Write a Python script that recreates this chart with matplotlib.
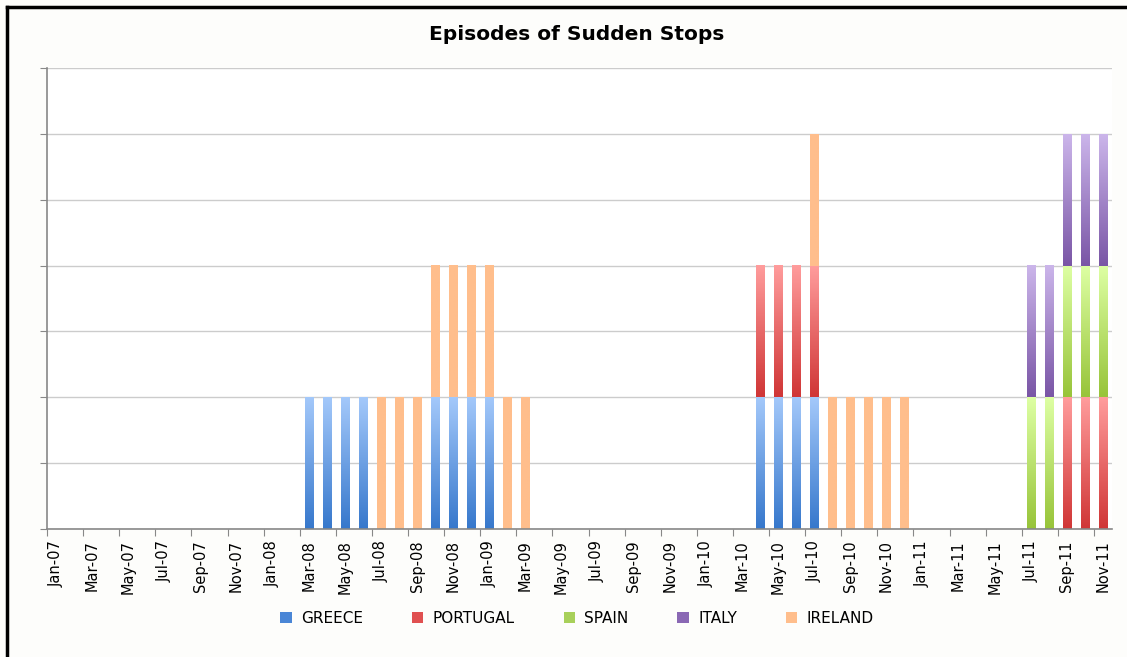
import numpy as np
import matplotlib.pyplot as plt
from matplotlib.colors import LinearSegmentedColormap
from matplotlib.lines import Line2D
from matplotlib.patches import Patch

# Monthly categories Jan-07 .. Nov-11
month_names = ["Jan", "Feb", "Mar", "Apr", "May", "Jun",
               "Jul", "Aug", "Sep", "Oct", "Nov", "Dec"]
months = [f"{m}-{y:02d}" for y in range(7, 12) for m in month_names][:59]

# Months with a sudden stop episode, per country (1 unit each)
greece = ["Mar-08", "Apr-08", "May-08", "Jun-08", "Oct-08", "Nov-08", "Dec-08",
          "Jan-09", "Apr-10", "May-10", "Jun-10", "Jul-10"]
portugal = ["Apr-10", "May-10", "Jun-10", "Jul-10", "Sep-11", "Oct-11", "Nov-11"]
spain = ["Jul-11", "Aug-11", "Sep-11", "Oct-11", "Nov-11"]
italy = ["Jul-11", "Aug-11", "Sep-11", "Oct-11", "Nov-11"]
ireland = ["Jul-08", "Aug-08", "Sep-08", "Oct-08", "Nov-08", "Dec-08", "Jan-09",
           "Feb-09", "Mar-09", "Jul-10", "Aug-10", "Sep-10", "Oct-10", "Nov-10",
           "Dec-10"]

series = [("GREECE", greece), ("PORTUGAL", portugal), ("SPAIN", spain),
          ("ITALY", italy), ("IRELAND", ireland)]

# (bottom colour, top colour) for the gradient fill
colors = {
    "GREECE": ("#3778cc", "#a3c8fa"),
    "PORTUGAL": ("#d03636", "#ff9c9c"),
    "SPAIN": ("#98c43a", "#ddffa3"),
    "ITALY": ("#7a56a6", "#cbb5ea"),
    "IRELAND": ("#ffbe8c", "#ffbe8c"),
}
legend_colors = {"GREECE": "#4a86d6", "PORTUGAL": "#e05050", "SPAIN": "#a8d05a",
                 "ITALY": "#8a68b4", "IRELAND": "#ffbe8c"}

x = np.arange(len(months))
width = 0.46

fig = plt.figure(figsize=(11.27, 6.57), dpi=100)
fig.patch.set_facecolor("#fdfdfb")
ax = fig.add_axes([0.0417, 0.1948, 0.945, 0.7017])
ax.set_facecolor("white")

grad = np.linspace(0, 1, 64).reshape(-1, 1)
bottom = np.zeros(len(months))
for name, active in series:
    vals = np.array([1.0 if m in active else 0.0 for m in months])
    bars = ax.bar(x, vals, width, bottom=bottom, color="none", linewidth=0)
    cmap = LinearSegmentedColormap.from_list(name, colors[name])
    for b, v in zip(bars, vals):
        if v == 0:
            continue
        x0, y0 = b.get_x(), b.get_y()
        ax.imshow(grad, cmap=cmap, origin="lower", aspect="auto",
                  extent=[x0, x0 + b.get_width(), y0, y0 + b.get_height()],
                  zorder=2, interpolation="bilinear")
    bottom += vals

ax.set_xlim(-0.5, len(months) - 0.5)
ax.set_ylim(0, 3.5)
ax.set_yticks(np.arange(0, 3.51, 0.5))
ax.set_yticklabels([])
ax.yaxis.grid(True, color="#cccccc", linewidth=1)
ax.set_axisbelow(True)
ax.tick_params(axis="y", length=5, color="#888888")

# tick marks between categories, labels on every second month
ax.set_xticks(x[::2] - 0.5, minor=False)
ax.set_xticklabels([])
ax.set_xticks(x[::2], minor=True)
ax.set_xticklabels(months[::2], minor=True, rotation=90, fontsize=10.5,
                   fontfamily="DejaVu Sans")
ax.tick_params(axis="x", which="major", length=5, color="#888888")
ax.tick_params(axis="x", which="minor", length=0, pad=8)

for s in ["top", "right"]:
    ax.spines[s].set_visible(False)
for s in ["left", "bottom"]:
    ax.spines[s].set_color("#888888")
    ax.spines[s].set_linewidth(1.2)

fig.text(0.512, 0.947, "Episodes of Sudden Stops", ha="center", va="center",
         fontsize=14.5, fontweight="bold", fontfamily="DejaVu Sans")

handles = [Patch(facecolor=legend_colors[n], edgecolor="none") for n, _ in series]
fig.legend(handles, [n for n, _ in series], loc="center", bbox_to_anchor=(0.512, 0.059),
           ncol=5, frameon=False, handlelength=0.75, handleheight=0.75,
           handletextpad=0.6, columnspacing=3.2,
           prop={"family": "DejaVu Sans", "size": 11})

# black frame on the left and top edge of the picture
fig.add_artist(Line2D([7 / 1127, 7 / 1127], [0, 1 - 7 / 657], color="black",
                      linewidth=2.5, transform=fig.transFigure))
fig.add_artist(Line2D([7 / 1127, 1], [1 - 7 / 657, 1 - 7 / 657], color="black",
                      linewidth=2.5, transform=fig.transFigure))

fig.savefig("out.png", dpi=100, facecolor=fig.get_facecolor())
